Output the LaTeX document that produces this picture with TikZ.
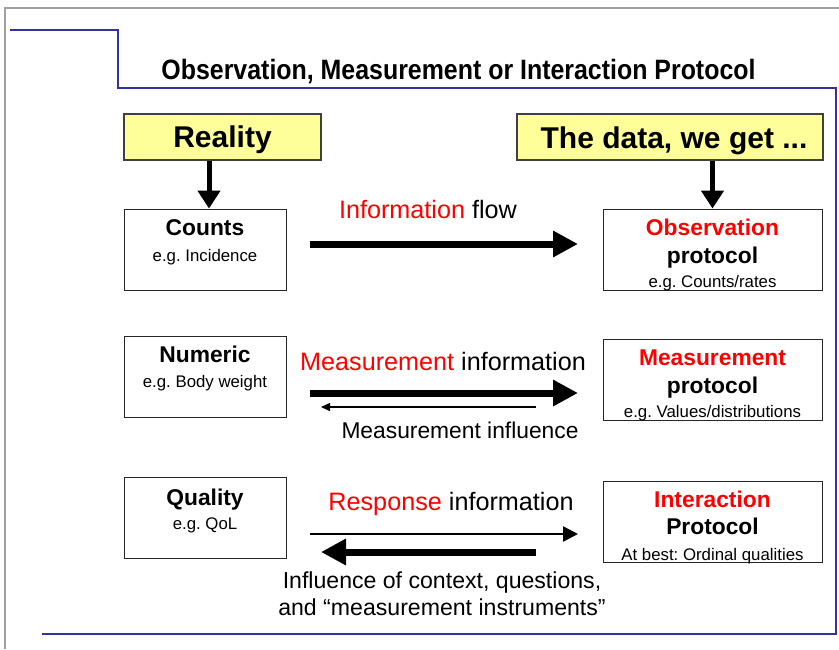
\documentclass[tikz,border=0pt]{standalone}
\usepackage{fontspec}
\setmainfont{Liberation Sans}
\newfontfamily\titlefont[FakeStretch=0.89]{Liberation Sans}
\usetikzlibrary{arrows.meta}
\definecolor{frameblue}{HTML}{333399}
\definecolor{framegray}{HTML}{A0A0A0}
\definecolor{boxyellow}{HTML}{FFFF99}
\definecolor{txtred}{HTML}{FF0000}
\newcommand\fsz[1]{\fontsize{#1}{#1}\selectfont}
\frenchspacing
\begin{document}
\begin{tikzpicture}[x=1pt,y=-1pt,
  yellowbox/.style={draw=black!75, line width=1.2pt, fill=boxyellow, inner sep=0pt},
  whitebox/.style={draw=black!85, line width=0.9pt, fill=white, inner sep=0pt, minimum width=162pt, minimum height=81pt},
  rbox/.style={draw=black!85, line width=0.9pt, fill=white, inner sep=0pt, minimum width=219pt, minimum height=81pt},
  txt/.style={anchor=base, inner sep=0pt},
  headtxt/.style={txt, font=\fsz{30}\bfseries},
  boldtxt/.style={txt, font=\fsz{22.8}\bfseries},
  smalltxt/.style={txt, font=\fsz{16.8}},
  labeltxt/.style={txt, font=\fsz{25.2}},
  downarrow/.style={line width=5pt, -{Triangle[length=18pt,width=22pt]}},
  thickarrow/.style={line width=7pt, -{Triangle[length=25pt,width=25pt]}},
  thinarrow/.style={line width=1.5pt, -{Triangle[length=9pt,width=8pt]}},
  medarrow/.style={line width=2.5pt, -{Triangle[length=15pt,width=15pt]}}
]
\useasboundingbox (0,0) rectangle (839,649);
% frames
\draw[framegray, line width=2pt] (5,649) -- (5,8) -- (839,8);
\draw[frameblue, line width=2.6pt] (10,30) -- (118,30) -- (118,88) -- (836,88) -- (836,634) -- (42,634);
% title
\node[txt, font=\titlefont\fsz{28}\bfseries] (title) at (458.5,79.3) {Observation, Measurement or Interaction Protocol};
% yellow boxes
\node[yellowbox, minimum width=197pt, minimum height=46pt] (reality) at (222.5,137) {};
\node[headtxt] (realitytxt) at (222.5,147) {Reality};
\node[yellowbox, minimum width=306pt, minimum height=46pt] (data) at (670,137) {};
\node[headtxt] (datatxt) at (674,148) {The data, we get ...};
% left boxes
\node[whitebox] (counts) at (205,249.5) {};
\node[boldtxt] (countst) at (205,235) {Counts};
\node[smalltxt] (countss) at (205,261) {e.g. Incidence};
\node[whitebox] (numeric) at (205,376.5) {};
\node[boldtxt] (numerict) at (205,362) {Numeric};
\node[smalltxt] (numerics) at (205,387) {e.g. Body weight};
\node[whitebox] (quality) at (205,518) {};
\node[boldtxt] (qualityt) at (205,505) {Quality};
\node[smalltxt] (qualitys) at (205,529) {e.g. QoL};
% right boxes
\node[rbox] (obs) at (712.5,249.5) {};
\node[boldtxt, text=txtred] (obst) at (712.5,235) {Observation};
\node[boldtxt] (obsp) at (712.5,263) {protocol};
\node[smalltxt] (obss) at (712.5,287) {e.g. Counts/rates};
\node[rbox] (meas) at (712.5,380) {};
\node[boldtxt, text=txtred] (meast) at (712.5,365) {Measurement};
\node[boldtxt] (measp) at (712.5,393) {protocol};
\node[smalltxt] (meass) at (712.5,417) {e.g. Values/distributions};
\node[rbox] (inter) at (712.5,521.5) {};
\node[boldtxt, text=txtred] (intert) at (712.5,507) {Interaction};
\node[boldtxt] (interp) at (712.5,534) {Protocol};
\node[smalltxt] (inters) at (712.5,560) {At best: Ordinal qualities};
% down arrows
\draw[downarrow] ([xshift=-13.5pt]reality.south) -- ([xshift=4pt]counts.north);
\draw[downarrow] ([xshift=42.5pt]data.south) -- (obs.north);
% middle arrows
\coordinate (r1a) at (310,244);
\coordinate (r1b) at (578,244);
\coordinate (r2a) at (310,393);
\coordinate (r2b) at (578,393);
\coordinate (r2c) at (536,407);
\coordinate (r2d) at (321,407);
\coordinate (r3a) at (310,534);
\coordinate (r3b) at (578,534);
\coordinate (r3c) at (536,552);
\coordinate (r3d) at (321,552);
\draw[thickarrow] (r1a) -- (r1b);
\draw[thickarrow] (r2a) -- (r2b);
\draw[thinarrow] (r2c) -- (r2d);
\draw[medarrow] (r3a) -- (r3b);
\draw[thickarrow] (r3c) -- (r3d);
% labels
\node[labeltxt] (l1) at (428,218) {\textcolor{txtred}{Information} flow};
\node[labeltxt] (l2) at (443,370) {\textcolor{txtred}{Measurement} information};
\node[txt, font=\fsz{22.8}] (l3) at (460,438) {Measurement influence};
\node[labeltxt] (l4) at (451,510) {\textcolor{txtred}{Response} information};
\node[txt, font=\fsz{23.1}] (l5) at (442,588) {Influence of context, questions,};
\node[txt, font=\fsz{23.1}] (l6) at (442,615) {and “measurement instruments”};
\end{tikzpicture}
\end{document}
